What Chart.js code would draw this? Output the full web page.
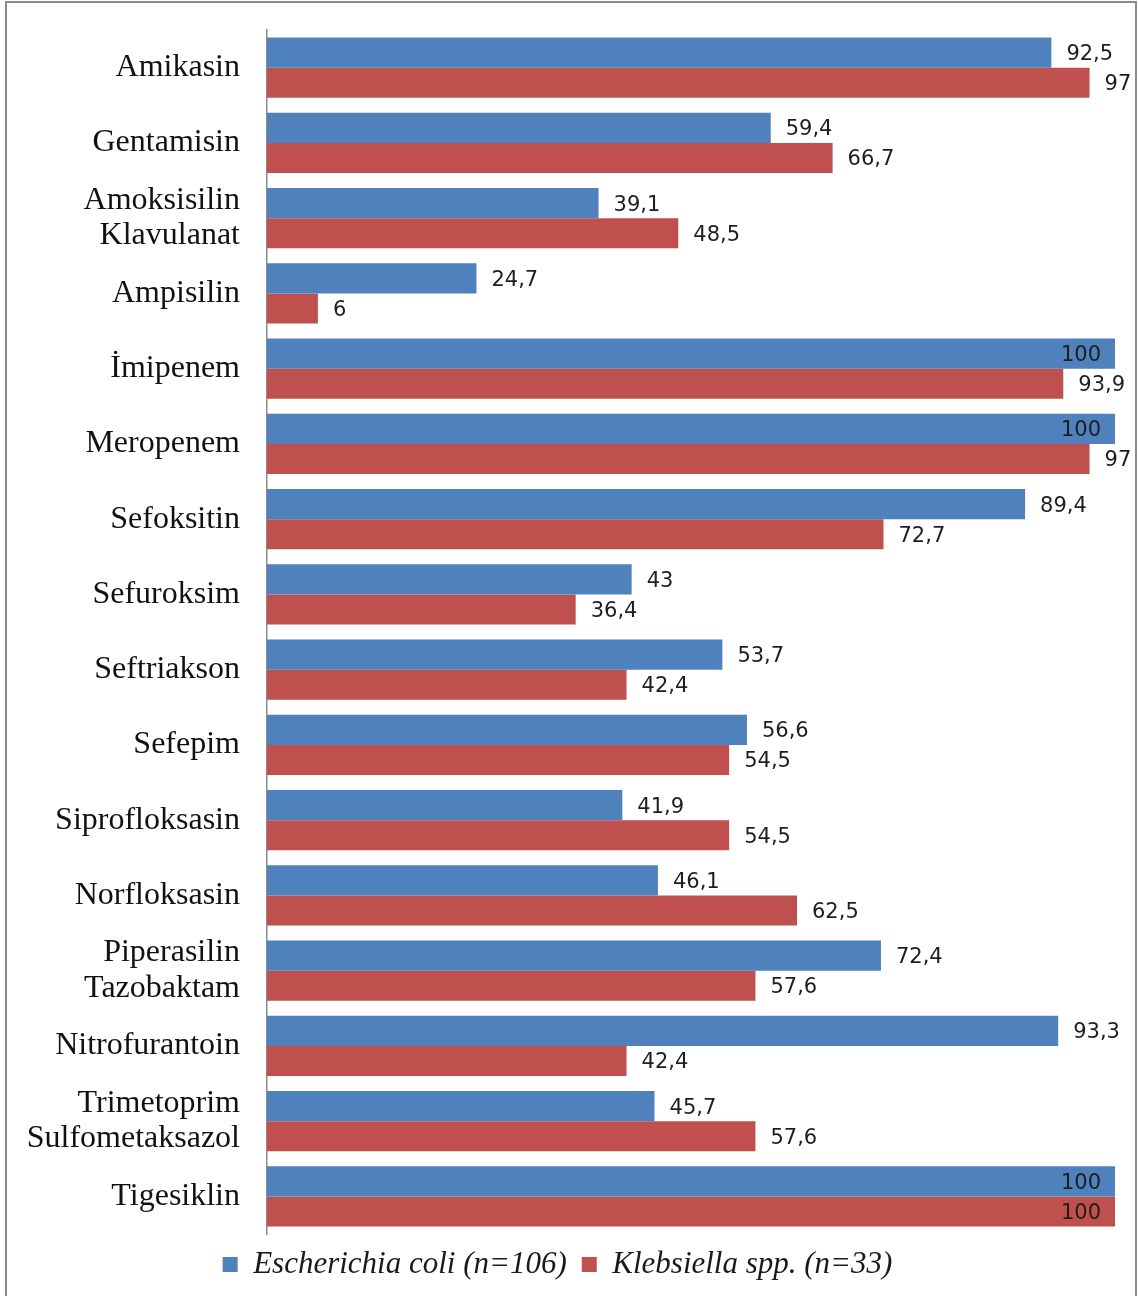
<!DOCTYPE html>
<html>
<head>
<meta charset="utf-8">
<script src="https://cdn.jsdelivr.net/npm/chart.js@4.4.1/dist/chart.umd.min.js"></script>
<style>
  html, body { margin: 0; padding: 0; background: #fff; }
  #wrap { width: 1138px; height: 1296px; position: relative; }
</style>
</head>
<body>
<div id="wrap"><canvas id="resistChart"></canvas></div>
<script>
// antibiotics (y categories)
const antibiotics = [
  'Amikasin',
  'Gentamisin',
  ['Amoksisilin', 'Klavulanat'],
  'Ampisilin',
  'İmipenem',
  'Meropenem',
  'Sefoksitin',
  'Sefuroksim',
  'Seftriakson',
  'Sefepim',
  'Siprofloksasin',
  'Norfloksasin',
  ['Piperasilin', 'Tazobaktam'],
  'Nitrofurantoin',
  ['Trimetoprim', 'Sulfometaksazol'],
  'Tigesiklin'
]

const seriesNames = ['Escherichia coli (n=106)', 'Klebsiella spp. (n=33)']

const eColiValues = [92.5, 59.4, 39.1, 24.7, 100, 100, 89.4, 43, 53.7, 56.6, 41.9, 46.1, 72.4, 93.3, 45.7, 100]
const klebsiellaValues = [97, 66.7, 48.5, 6, 93.9, 97, 72.7, 36.4, 42.4, 54.5, 54.5, 62.5, 57.6, 42.4, 57.6, 100]

const LABEL_FONT = '21px "DejaVu Sans", sans-serif'

// --- frame around the whole picture ---
const framePlugin = {
  id: 'frame',
  beforeDraw(chart) {
    const ctx = chart.ctx
    ctx.save()
    ctx.strokeStyle = '#8a8a8a'
    ctx.lineWidth = 2
    ctx.strokeRect(6, 2, 1130, 1310)
    ctx.restore()
  }
}

// --- value labels next to the bar ends ---
const valueLabelPlugin = {
  id: 'valueLabels',
  afterDatasetsDraw(chart) {
    const ctx = chart.ctx
    ctx.save()
    ctx.font = LABEL_FONT
    ctx.textBaseline = 'middle'
    ctx.fillStyle = '#1e1e1e'
    chart.data.datasets.forEach((ds, di) => {
      const meta = chart.getDatasetMeta(di)
      meta.data.forEach((bar, i) => {
        const txt = String(ds.data[i]).replace('.', ',')
        const w = ctx.measureText(txt).width
        let x = bar.x + 15
        // no room on the right: put it inside the bar end
        if (x + w > chart.width - 6) {
          x = bar.x - 14 - w
        }
        ctx.textAlign = 'left'
        ctx.fillText(txt, x, bar.y + 2)
      })
    })
    ctx.restore()
  }
}

const ctx = document.getElementById('resistChart')

new Chart(ctx, {
  type: 'bar',
  data: {
    labels: antibiotics,
    datasets: [
      {
        label: seriesNames[0],
        data: eColiValues,
        backgroundColor: '#4f81bd',
        borderWidth: 0
      },
      {
        label: seriesNames[1],
        data: klebsiellaValues,
        backgroundColor: '#c0504d',
        borderWidth: 0
      }
    ]
  },
  options: {
    indexAxis: 'y',
    responsive: true,
    maintainAspectRatio: false,
    animation: false,
    layout: {
      padding: { top: 30, right: 23, bottom: 6, left: 0 }
    },
    datasets: {
      bar: {
        categoryPercentage: 0.8,
        barPercentage: 1.0
      }
    },
    plugins: {
      title: { display: false },
      tooltip: { enabled: false },
      legend: {
        position: 'bottom',
        labels: {
          boxWidth: 15,
          boxHeight: 15,
          padding: 15,
          color: '#1a1a1a',
          font: {
            family: '"Liberation Serif", "Times New Roman", serif',
            style: 'italic',
            size: 31
          }
        }
      }
    },
    scales: {
      x: {
        display: false,
        min: 0,
        max: 100
      },
      y: {
        grid: { display: false, drawTicks: false },
        border: { display: true, color: '#8c8c8c', width: 1.5 },
        afterFit(scale) {
          scale.width = 267
          scale.paddingTop = 0
          scale.paddingBottom = 0
        },
        ticks: {
          padding: 27,
          color: '#111',
          font: {
            family: '"Liberation Serif", "Times New Roman", serif',
            size: 32,
            lineHeight: 1.12
          }
        }
      }
    }
  },
  plugins: [framePlugin, valueLabelPlugin]
})
</script>
</body>
</html>
